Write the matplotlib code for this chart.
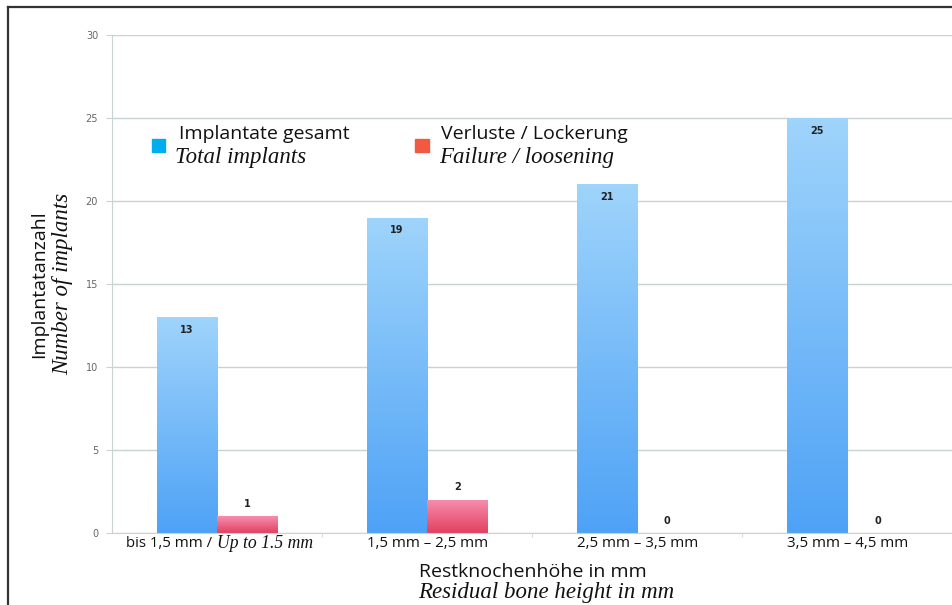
import numpy as np
import matplotlib.pyplot as plt
from matplotlib.lines import Line2D
from matplotlib.colors import LinearSegmentedColormap

# Data
categories = ["bis 1,5 mm / Up to 1.5 mm", "1,5 mm \u2013 2,5 mm",
              "2,5 mm \u2013 3,5 mm", "3,5 mm \u2013 4,5 mm"]
total_implants = [13, 19, 21, 25]
failures = [1, 2, 0, 0]

sans = "Open Sans"
serif = "Liberation Serif"

fig = plt.figure(figsize=(9.53, 6.05), dpi=100)
ax = fig.add_axes([0.1175, 0.119, 0.882, 0.823])

x = np.arange(len(categories))
w = 0.286

blue_cmap = LinearSegmentedColormap.from_list("b", ["#4ea2f6", "#9fd4fb"])
pink_cmap = LinearSegmentedColormap.from_list("p", ["#e2405f", "#f78fb0"])

def gradient_bars(xs, heights, cmap):
    bars = ax.bar(xs, heights, w, align="edge", color="none", linewidth=0, zorder=2)
    for b in bars:
        h = b.get_height()
        if h <= 0:
            continue
        x0 = b.get_x()
        grad = np.linspace(0, 1, 256).reshape(-1, 1)
        im = ax.imshow(grad, cmap=cmap, origin="lower", aspect="auto",
                       extent=[x0, x0 + w, 0, h], zorder=2)
        im.set_clip_path(b)
    return bars

gradient_bars(x - w, total_implants, blue_cmap)
gradient_bars(x, failures, pink_cmap)

for xi, v in zip(x, total_implants):
    ax.text(xi - w / 2, v - 0.75, str(v), ha="center", va="center",
            fontsize=7, fontweight="bold", color="#222222", zorder=3)
for xi, v in zip(x, failures):
    ax.text(xi + w / 2, v + 0.75, str(v), ha="center", va="center",
            fontsize=7, fontweight="bold", color="#222222", zorder=3)

ax.set_xlim(-0.5, 3.5)
ax.set_ylim(0, 30)
ax.set_yticks(range(0, 31, 5))
ax.yaxis.grid(True, color="#c9d3d0", linewidth=1)
ax.set_axisbelow(True)
ax.tick_params(axis="y", labelsize=7, labelcolor="#666666", color="#c9d3d0",
               length=4, pad=6)
ax.set_xticks([0.5, 1.5, 2.5], minor=False)
ax.set_xticklabels([])
ax.tick_params(axis="x", color="#d8dddb", length=3)
for s in ["top", "right"]:
    ax.spines[s].set_visible(False)
ax.spines["left"].set_color("#c9d3d0")
ax.spines["bottom"].set_color("#c9d3d0")

# Category labels
tf = ax.get_xaxis_transform()
ax.text(-0.005, -0.022, "bis 1,5 mm / ", transform=tf, ha="right", va="center",
        fontsize=10.8, family=sans, color="#111111")
ax.text(0.0, -0.022, "Up to 1.5 mm", transform=tf, ha="left", va="center",
        fontsize=12.7, family=serif, style="italic", color="#111111")
for xi, lab in zip(x[1:], categories[1:]):
    ax.text(xi, -0.022, lab, transform=tf, ha="center", va="center",
            fontsize=10.8, family=sans, color="#111111")

# Axis titles
fig.text(0.4395, 0.054, "Restknochenh\u00f6he in mm", ha="left", va="center",
         fontsize=14, family=sans, color="#111111")
fig.text(0.4385, 0.020, "Residual bone height in mm", ha="left", va="center",
         fontsize=16.5, family=serif, style="italic", color="#111111")
fig.text(0.041, 0.53, "Implantatanzahl", rotation=90, ha="center", va="center",
         fontsize=14, family=sans, color="#111111")
fig.text(0.066, 0.53, "Number of implants", rotation=90, ha="center", va="center",
         fontsize=16.5, family=serif, style="italic", color="#111111")

# Legend
fig.patches.append(plt.Rectangle((0.159, 0.748), 0.0145, 0.022, transform=fig.transFigure,
                                 color="#00aeef", figure=fig))
fig.text(0.188, 0.778, "Implantate gesamt", ha="left", va="center",
         fontsize=14, family=sans, color="#111111")
fig.text(0.184, 0.740, "Total implants", ha="left", va="center",
         fontsize=16.5, family=serif, style="italic", color="#111111")
fig.patches.append(plt.Rectangle((0.4355, 0.748), 0.0145, 0.022, transform=fig.transFigure,
                                 color="#f15a40", figure=fig))
fig.text(0.4625, 0.778, "Verluste / Lockerung", ha="left", va="center",
         fontsize=14, family=sans, color="#111111")
fig.text(0.4605, 0.740, "Failure / loosening", ha="left", va="center",
         fontsize=16.5, family=serif, style="italic", color="#111111")

# Frame
fig.add_artist(Line2D([0.0085, 1.0], [0.988, 0.988], color="#333333", linewidth=1.6,
                      transform=fig.transFigure))
fig.add_artist(Line2D([0.0085, 0.0085], [0.0, 0.988], color="#333333", linewidth=1.6,
                      transform=fig.transFigure))

fig.savefig("out.png", dpi=100)
